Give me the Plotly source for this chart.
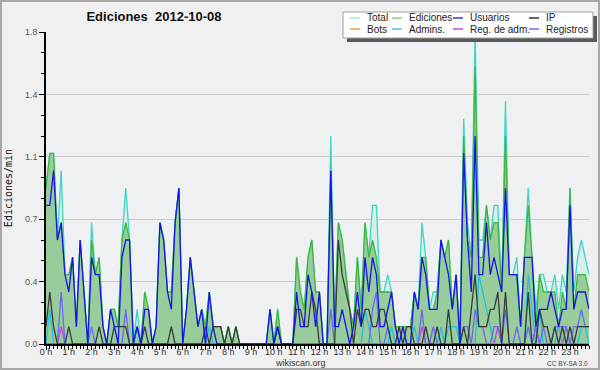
import plotly.graph_objects as go

# 10-minute bins over the day (hours); values are edits per 10-minute bin
bin_hours = [m / 60 for m in range(0, 1440, 10)]

total = [9,11,11,6,10,4, 4,5,1,6,3,0, 7,4,5,1,0,2, 2,1,6,9,6,0, 2,0,3,2,0,1, 7,6,3,3,7,9,
         0,2,5,3,1,2, 1,3,1,1,1,0, 1,0,1,0,0,0, 0,0,0,0,0,2, 0,2,0,0,0,0, 5,3,2,5,6,3,
         3,0,0,12,1,7, 6,4,2,1,5,2, 7,5,8,8,3,3, 4,3,1,1,1,1, 1,3,2,7,5,2, 3,3,6,5,6,2,
         4,0,13,7,5,18, 6,6,8,6,8,8, 3,14,4,4,5,1, 5,9,5,2,4,4, 3,3,4,2,4,3, 9,3,5,6,5,4]
ediciones = [9,11,11,6,7,4, 4,5,1,6,3,0, 6,4,5,1,0,2, 2,1,6,7,6,0, 1,0,3,2,0,1, 7,6,3,3,7,9,
             0,2,5,3,1,2, 1,3,1,1,1,0, 1,0,1,0,0,0, 0,0,0,0,0,2, 0,2,0,0,0,0, 5,3,2,5,6,3,
             3,0,0,10,1,7, 6,4,2,1,5,2, 7,5,6,5,3,3, 3,3,1,1,1,1, 1,3,2,5,5,2, 2,3,6,5,6,2,
             4,0,12,6,5,16, 5,5,8,6,7,7, 3,12,4,4,4,1, 5,8,5,1,4,3, 3,3,3,1,3,2, 9,2,4,4,4,3]
usuarios = [8,8,10,6,7,4, 3,5,1,6,3,0, 5,4,4,1,0,2, 1,0,5,6,6,0, 1,0,2,2,0,1, 7,6,3,2,7,9,
            0,2,5,3,1,2, 0,3,1,0,0,0, 0,0,0,0,0,0, 0,0,0,0,0,2, 0,1,0,0,0,0, 3,1,1,4,3,1,
            3,0,0,10,1,1, 2,1,0,1,3,1, 5,3,5,4,1,1, 2,3,1,0,1,0, 0,3,2,5,4,2, 2,2,6,5,4,2,
            4,0,11,6,3,12, 4,4,7,4,5,4, 3,9,4,4,4,1, 5,5,5,1,2,2, 2,3,2,1,2,2, 8,2,3,3,3,2]
ip = [1,3,1,0,0,0, 1,0,0,0,0,0, 0,0,1,0,0,0, 1,1,1,1,0,0, 0,0,1,0,0,0, 0,0,0,1,0,0,
      0,0,0,0,0,0, 1,0,1,1,1,0, 1,0,1,0,0,0, 0,0,0,0,0,0, 0,1,0,0,0,0, 2,2,1,1,3,2,
      0,0,0,0,0,6, 4,3,2,0,2,1, 2,2,1,1,2,2, 1,0,0,1,0,1, 1,0,0,0,1,0, 0,1,0,0,2,0,
      0,0,1,0,2,4, 1,1,1,2,2,3, 0,3,0,0,0,0, 0,3,0,0,2,1, 1,0,1,0,1,0, 1,0,1,1,1,1]
bots = [0] * 144
admins = [0,2,0,0,0,0, 0,0,0,0,0,0, 0,0,0,0,0,0, 0,0,0,0,0,0, 1,0,0,0,0,0, 0,0,0,0,0,0,
          0,0,0,0,0,0, 0,1,0,0,0,0, 0,0,0,0,0,0, 0,0,0,0,0,0, 0,1,0,0,0,0, 0,0,0,0,0,0,
          0,0,0,0,0,0, 0,0,0,0,0,0, 2,1,0,0,0,0, 0,1,0,0,0,0, 0,1,0,0,0,0, 0,0,1,0,1,1,
          1,0,0,0,0,0, 4,3,2,1,0,0, 0,0,0,0,0,0, 0,4,2,0,2,0, 0,0,0,1,0,0, 0,0,0,1,1,0]
reg_adm = [0,0,0,0,1,0, 0,0,0,0,0,0, 0,0,0,0,0,0, 0,0,0,0,0,0, 0,0,0,0,0,0, 0,0,0,0,0,0,
           0,0,0,0,0,0, 0,0,0,0,0,0, 0,0,0,0,0,0, 0,0,0,0,0,0, 0,0,0,0,0,0, 0,0,0,0,0,0,
           0,0,0,0,0,0, 0,0,0,0,0,0, 0,0,0,0,0,0, 0,0,0,0,0,0, 0,0,0,1,0,0, 0,0,0,0,0,0,
           0,0,0,0,0,0, 0,0,0,0,0,1, 0,0,0,0,0,0, 0,0,0,1,0,0, 0,0,0,0,0,1, 0,0,0,0,0,0]
registros = [0,0,0,0,3,0, 0,0,0,0,0,0, 1,0,0,0,0,0, 0,0,0,2,0,0, 1,0,0,0,0,0, 0,0,0,0,0,0,
             0,0,0,0,0,0, 0,0,0,0,0,0, 0,0,0,0,0,0, 0,0,0,0,0,0, 0,0,0,0,0,0, 0,0,0,0,0,0,
             0,0,0,2,0,0, 0,0,0,0,0,0, 0,0,2,3,0,0, 1,0,0,0,0,0, 0,0,0,2,0,0, 1,0,0,0,0,0,
             0,0,1,1,0,2, 1,1,0,0,1,1, 0,2,0,0,1,0, 0,1,0,1,0,1, 0,0,1,1,1,1, 0,1,1,2,1,1]

hour_ticks = list(range(24))
hour_labels = [f"{h} h" for h in hour_ticks]
y_ticks = [0, 0.36, 0.72, 1.08, 1.44, 1.8]
y_labels = ["0.0", "0.4", "0.7", "1.1", "1.4", "1.8"]

def per_min(v):
    return [x / 10 for x in v]

series = [
    ("Total", total, "#3fd4c4", "#d6efe8"),
    ("Ediciones", ediciones, "#3cb83c", "#99cc9b"),
    ("Bots", bots, "#f0a040", None),
    ("Admins.", admins, "#22c0dc", None),
    ("Reg. de adm.", reg_adm, "#cc44dd", None),
    ("Registros", registros, "#6a6af0", None),
    ("IP", ip, "#3a3a3a", None),
    ("Usuarios", usuarios, "#1414e6", None),
]

fig = go.Figure()
for name, vals, col, fillc in series:
    kw = {}
    if fillc:
        kw = dict(fill="tozeroy", fillcolor=fillc)
    fig.add_trace(go.Scatter(x=bin_hours, y=per_min(vals), mode="lines", name=name,
                             line=dict(color=col, width=1.3), showlegend=False,
                             hoverinfo="skip", **kw))

W, H = 600, 370
L, R, T, B = 46, 11, 32, 26
pw, ph = W - L - R, H - T - B

def px(x):
    return (x - L) / pw

def py(y):
    return (H - B - y) / ph

shapes = [
    dict(type="rect", xref="paper", yref="paper", x0=px(347), x1=px(597), y0=py(16), y1=py(42),
         fillcolor="#5a5a5a", line=dict(width=0), layer="above"),
    dict(type="rect", xref="paper", yref="paper", x0=px(343), x1=px(593), y0=py(12), y1=py(38),
         fillcolor="#ffffff", line=dict(color="#a0a0a0", width=1), layer="above"),
    dict(type="rect", xref="paper", yref="paper", x0=px(1), x1=px(599), y0=py(1), y1=py(369),
         fillcolor="rgba(0,0,0,0)", line=dict(color="#a8a8a8", width=2), layer="above"),
]
legend_items = [
    ("Total", "#a8e4da", 350, 18), ("Ediciones", "#8ccc8c", 392, 18),
    ("Usuarios", "#3434dc", 453, 18), ("IP", "#333333", 529, 18),
    ("Bots", "#f5a040", 350, 29), ("Admins.", "#40c8e0", 392, 29),
    ("Reg. de adm.", "#cc44dd", 453, 29), ("Registros", "#7070ee", 529, 29),
]
annotations = []
for name, col, x0, y0 in legend_items:
    shapes.append(dict(type="line", xref="paper", yref="paper", x0=px(x0), x1=px(x0 + 10),
                       y0=py(y0), y1=py(y0), line=dict(color=col, width=1.5), layer="above"))
    annotations.append(dict(text=name, xref="paper", yref="paper", x=px(x0 + 15), y=py(y0),
                            xanchor="left", yanchor="middle", showarrow=False,
                            font=dict(family="Liberation Sans", size=10, color="#222222")))

annotations += [
    dict(text="wikiscan.org", xref="paper", yref="paper", x=px(300), y=py(363),
         xanchor="center", yanchor="middle", showarrow=False,
         font=dict(family="Liberation Sans", size=9, color="#333333")),
    dict(text="CC BY-SA 3.0", xref="paper", yref="paper", x=px(590), y=py(363),
         xanchor="right", yanchor="middle", showarrow=False,
         font=dict(family="Liberation Sans", size=6.5, color="#444444")),
]

fig.update_layout(
    width=W, height=H,
    margin=dict(l=L, r=R, t=T, b=B, autoexpand=False),
    paper_bgcolor="#f0f0f0", plot_bgcolor="#eef0f2",
    title=dict(text="<b>Ediciones  2012-10-08</b>", x=154 / W, xref="container", xanchor="center",
               y=1 - 16 / H, yref="container", yanchor="middle",
               font=dict(family="Liberation Sans", size=13, color="#111111")),
    shapes=shapes, annotations=annotations, showlegend=False,
    xaxis=dict(range=[0, 143 / 6], showgrid=False, zeroline=False, showline=True,
               linecolor="#000000", linewidth=1.5, ticks="outside", ticklen=4, tickwidth=1,
               tickcolor="#000000", tickmode="array", tickvals=hour_ticks, ticktext=hour_labels,
               tickfont=dict(family="Liberation Sans", size=9, color="#333333"),
               ticklabelstandoff=-6,
               minor=dict(tickmode="linear", tick0=0, dtick=1 / 6, ticks="outside", ticklen=3,
                          tickcolor="#000000", tickwidth=1, showgrid=False)),
    yaxis=dict(range=[0, 1.8], showgrid=True, gridcolor="#cccccc", gridwidth=1, zeroline=False,
               showline=True, linecolor="#000000", linewidth=1.5, ticks="outside", ticklen=5,
               tickcolor="#000000", tickmode="array", tickvals=y_ticks, ticktext=y_labels,
               tickfont=dict(family="Liberation Sans", size=9, color="#555555"),
               title=dict(text="Ediciones/min", standoff=10,
                          font=dict(family="DejaVu Sans Mono", size=10, color="#111111")),
               minor=dict(tickmode="linear", tick0=0, dtick=0.12, ticks="outside", ticklen=3,
                          tickcolor="#000000", tickwidth=1, showgrid=False)),
)

fig.write_html("out.html", config={"displayModeBar": False},
               post_script="document.body.style.margin='0';document.body.style.overflow='hidden';")
